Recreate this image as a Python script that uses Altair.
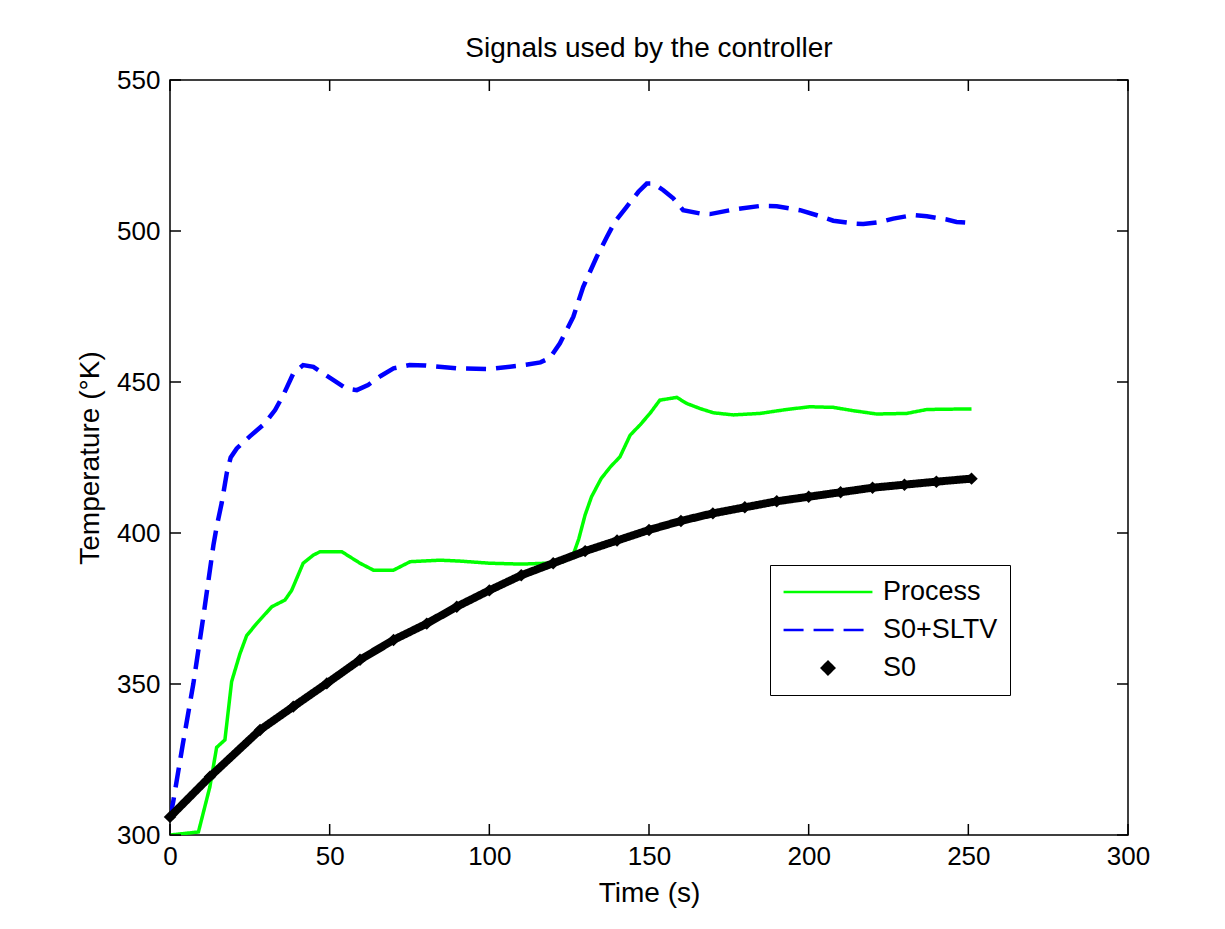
import altair as alt
import pandas as pd

# ---- data ----
series_names = ["Process", "S0+SLTV", "S0"]
series_colors = ["#00ff00", "#0000ff", "#000000"]

process_t = [0, 8.9, 12.5, 14.6, 17.2, 19.3, 21.9, 24, 27.1, 31.9, 36, 38.1, 41.7, 44.9, 47, 53.8,
             59.5, 63.7, 70, 75.2, 84.6, 90.8, 100, 110, 118, 123, 126, 128, 130, 132, 135, 138,
             140.9, 144.1, 147.2, 150.3, 153.4, 158.7, 161.8, 166, 170.2, 176.4, 184.8, 193.1,
             200.4, 207.7, 214, 221.3, 230.7, 237, 251]
process_v = [300, 301, 316, 329, 331.5, 350.8, 360, 366, 370, 375.6, 377.8, 381, 390, 392.7, 393.8, 393.8,
             390, 387.7, 387.7, 390.5, 391, 390.7, 390, 389.7, 390, 390.5, 392, 398, 406, 412, 418, 422,
             425.2, 432.4, 435.8, 439.6, 444, 444.9, 442.9, 441.2, 439.8, 439.1, 439.6, 440.9,
             441.8, 441.6, 440.5, 439.4, 439.6, 440.9, 441.1]

sltv_t = [0, 1, 4, 7.3, 10.4, 13.6, 14.6, 16.2, 17.8, 19, 20.9, 25, 29.7, 32.9, 35.5, 38.6, 41.7, 44.9,
          51.2, 55.3, 58.5, 62, 66, 70, 75, 80, 90, 100, 110, 116, 119, 122.1, 126.3, 129.4, 133.6,
          136.8, 139.3, 143, 146.7, 149.3, 151.4, 154.5, 157.6, 160.7, 166, 169.1, 176.4, 184.8, 190,
          197.3, 203.6, 207.7, 214, 217.1, 222.4, 226.5, 232.8, 237, 243.2, 246.3, 251]
sltv_v = [306, 311, 330, 350, 372, 396, 402, 410, 420, 425, 428, 432, 436.3, 440.7, 445.7, 452.8, 455.6, 455,
          450.6, 447.8, 447.3, 449, 452, 454.5, 455.6, 455.5, 454.5, 454.3, 455.5, 456.5, 458, 462.8, 471.6,
          481.5, 491.4, 498, 503, 508, 513, 515.7, 515.7, 513.5, 510.8, 506.9, 505.8, 505.6, 507.1, 508.3,
          508.2, 506.9, 504.9, 503.4, 502.5, 502.3, 503, 504.1, 505.3, 504.9, 503.8, 503, 502.7]

s0_t = [0, 12.5, 28.2, 38.6, 49.1, 59.5, 70, 80.4, 89.8, 100, 110, 120, 130, 140, 150, 160, 170, 180,
        190, 200, 210, 220, 230, 240, 251]
s0_v = [306, 319.3, 334.8, 342.5, 350.2, 358, 364.6, 370, 375.6, 381, 386, 390, 394, 397.5, 401, 404,
        406.5, 408.5, 410.5, 412, 413.5, 415, 416, 417, 418]

x_ticks = [0, 50, 100, 150, 200, 250, 300]
y_ticks = [300, 350, 400, 450, 500, 550]

# ---- tables ----
rows = []
for name, ts, vs in [("Process", process_t, process_v), ("S0+SLTV", sltv_t, sltv_v), ("S0", s0_t, s0_v)]:
    for i, (t, v) in enumerate(zip(ts, vs)):
        rows.append({"series": name, "t": t, "v": v, "i": i})
df = pd.DataFrame(rows)
proc_df = df[df["series"] == "Process"]
sltv_df = df[df["series"] == "S0+SLTV"]
s0_df = df[df["series"] == "S0"]
xt_df = pd.DataFrame({"t": x_ticks})
yt_df = pd.DataFrame({"v": y_ticks})

W, H = 958, 755
FONT = "Liberation Sans"
SYM = 7900  # legend line length = sqrt(SYM)
DIAMOND = "M-0.14,0L0,-0.14L0.14,0L0,0.14Z"
LINE = "M-1,0L1,0"

x_scale = alt.Scale(domain=[0, 300], nice=False, zero=False)
y_scale = alt.Scale(domain=[300, 550], nice=False, zero=False)

legend = alt.Legend(
    title=None, orient="none", legendX=600, legendY=485,
    strokeColor="black", fillColor="white", padding=12,
    labelFontSize=27, labelFont=FONT, labelColor="black", labelOffset=9,
    symbolStrokeWidth=2.5, symbolSize=SYM, clipHeight=30, rowPadding=8,
)

color_enc = alt.Color("series:N", scale=alt.Scale(domain=series_names, range=series_colors), legend=legend)
dash_enc = alt.StrokeDash("series:N", scale=alt.Scale(domain=series_names, range=[[1, 0], [20, 10], [1, 0]]), legend=legend)


def x_enc(field="t"):
    return alt.X(f"{field}:Q", scale=x_scale, title="Time (s)",
                 axis=alt.Axis(values=x_ticks, labelPadding=8, titlePadding=10))


def y_enc(field="v"):
    return alt.Y(f"{field}:Q", scale=y_scale, title="Temperature (°K)",
                 axis=alt.Axis(values=y_ticks, labelPadding=10, titlePadding=12))


points = alt.Chart(s0_df).mark_point(filled=True, opacity=1, size=SYM, strokeWidth=0).encode(
    x=x_enc(), y=y_enc(), color=color_enc,
    shape=alt.Shape("series:N", scale=alt.Scale(domain=series_names, range=[LINE, LINE, DIAMOND]), legend=legend),
)


def line_layer(data, width):
    return alt.Chart(data).mark_line(clip=True, strokeWidth=width).encode(
        x=x_enc(), y=y_enc(), color=color_enc, strokeDash=dash_enc, order="i:Q")


proc_line = line_layer(proc_df, 3.5)
sltv_line = line_layer(sltv_df, 4.5)
s0_line = line_layer(s0_df, 8)

tick_style = dict(color="black", strokeWidth=1.5)
xt_bottom = alt.Chart(xt_df).mark_rule(**tick_style).encode(
    x=x_enc(), y=alt.value(H), y2=alt.value(H - 11))
xt_top = alt.Chart(xt_df).mark_rule(**tick_style).encode(
    x=x_enc(), y=alt.value(0), y2=alt.value(11))
yt_left = alt.Chart(yt_df).mark_rule(**tick_style).encode(
    y=y_enc(), x=alt.value(0), x2=alt.value(11))
yt_right = alt.Chart(yt_df).mark_rule(**tick_style).encode(
    y=y_enc(), x=alt.value(W), x2=alt.value(W - 11))

chart = alt.layer(points, proc_line, sltv_line, s0_line, xt_bottom, xt_top, yt_left, yt_right).properties(
    width=W, height=H,
    title=alt.TitleParams("Signals used by the controller", fontSize=28, font=FONT,
                          fontWeight="normal", color="black", offset=4, anchor="middle"),
    autosize=alt.AutoSizeParams(type="none"),
    padding={"left": 162, "top": 72, "right": 60, "bottom": 80},
    background="white",
).configure_view(
    stroke="black", strokeWidth=1.5
).configure_axis(
    grid=False, ticks=False, domain=False, labelFont=FONT, titleFont=FONT,
    labelFontSize=26, titleFontSize=28, titleFontWeight="normal",
    labelColor="black", titleColor="black", labelFlush=False, labelOverlap=False,
)

chart.save("out.html", embed_options={"renderer": "svg", "actions": False})
